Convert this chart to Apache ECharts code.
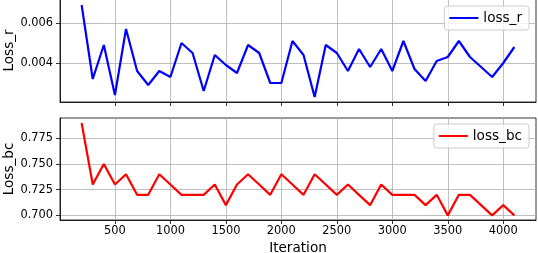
<!DOCTYPE html>
<html>
<head>
<meta charset="utf-8">
<script src="https://cdn.jsdelivr.net/npm/echarts@6/dist/echarts.min.js"></script>
<style>
html,body{margin:0;padding:0;background:#fff;}
#c{width:538px;height:253px;}
</style>
</head>
<body>
<div id="c"></div>
<script>
const iterations = [200,300,400,500,600,700,800,900,1000,1100,1200,1300,1400,1500,1600,1700,1800,1900,2000,2100,2200,2300,2400,2500,2600,2700,2800,2900,3000,3100,3200,3300,3400,3500,3600,3700,3800,3900,4000,4100];
const lossR = [0.0069,0.0032,0.0049,0.0024,0.0057,0.0036,0.0029,0.0036,0.0033,0.0050,0.0045,0.0026,0.0044,0.0039,0.0035,0.0049,0.0045,0.0030,0.0030,0.0051,0.0044,0.0023,0.0049,0.0045,0.0036,0.0047,0.0038,0.0047,0.0036,0.0051,0.0037,0.0031,0.0041,0.0043,0.0051,0.0043,0.0038,0.0033,0.0040,0.0048];
const lossBc = [0.79,0.73,0.75,0.73,0.74,0.72,0.72,0.74,0.73,0.72,0.72,0.72,0.73,0.71,0.73,0.74,0.73,0.72,0.74,0.73,0.72,0.74,0.73,0.72,0.73,0.72,0.71,0.73,0.72,0.72,0.72,0.71,0.72,0.70,0.72,0.72,0.71,0.70,0.71,0.70];
const xTicks = [500,1000,1500,2000,2500,3000,3500,4000];
const rTicks = [0.004,0.006];
const bcTicks = [0.700,0.725,0.750,0.775];

const FONT = 'DejaVu Sans';
const TICK_FS = 11.4, NAME_FS = 13.6;
const chart = echarts.init(document.getElementById('c'), null, {renderer:'canvas'});

function xAxisCfg(gridIndex, showLabels){
  return {
    type:'value', gridIndex, min:5, max:4295,
    axisLine:{show:true, onZero:false, lineStyle:{color:'#000', width:0.8}},
    axisTick:{show:true, inside:false, length:4, customValues:xTicks, lineStyle:{color:'#000', width:0.8}},
    axisLabel:{show:showLabels, customValues:xTicks, margin:6, color:'#000', fontSize:TICK_FS, fontFamily:FONT,
      formatter:(v)=>String(v)},
    splitLine:{show:true, lineStyle:{color:'#b0b0b0', width:0.8}},
    name: showLabels ? 'Iteration' : '',
    nameLocation:'middle', nameGap:21.5, nameMoveOverlap:false,
    nameTextStyle:{color:'#000', fontSize:NAME_FS, fontFamily:FONT}
  };
}
function yAxisCfg(gridIndex, min, max, ticks, name, digits){
  return {
    type:'value', gridIndex, min, max,
    axisLine:{show:true, lineStyle:{color:'#000', width:0.8}},
    axisTick:{show:true, inside:false, length:4, customValues:ticks, lineStyle:{color:'#000', width:0.8}},
    axisLabel:{customValues:ticks, margin:7, color:'#000', fontSize:TICK_FS, fontFamily:FONT,
      formatter:(v)=>v.toFixed(digits)},
    splitLine:{show:true, lineStyle:{color:'#b0b0b0', width:0.8}},
    name, nameLocation:'middle', nameGap:44, nameMoveOverlap:false,
    nameTextStyle:{color:'#000', fontSize:NAME_FS, fontFamily:FONT}
  };
}

chart.setOption({
  animation:false,
  backgroundColor:'#fff',
  grid:[
    {left:60, right:2, top:-1, height:103, show:true, borderColor:'#000', borderWidth:0.8, containLabel:false, outerBoundsMode:'none'},
    {left:60, right:2, top:118, height:102, show:true, borderColor:'#000', borderWidth:0.8, containLabel:false, outerBoundsMode:'none'}
  ],
  xAxis:[xAxisCfg(0,false), xAxisCfg(1,true)],
  yAxis:[
    yAxisCfg(0, 0.00205, 0.0072, rTicks, 'Loss_r', 3),
    yAxisCfg(1, 0.6955, 0.7948, bcTicks, 'Loss_bc', 3)
  ],
  legend:[
    {data:[{name:'loss_r', icon:'rect'}], right:9, top:6, itemWidth:29, itemHeight:2, itemGap:10,
     backgroundColor:'rgba(255,255,255,0.8)', borderColor:'#cccccc', borderWidth:1, borderRadius:3,
     padding:[5,7,5,5], textStyle:{color:'#000', fontSize:NAME_FS, fontFamily:FONT}},
    {data:[{name:'loss_bc', icon:'rect'}], right:9, top:124, itemWidth:29, itemHeight:2, itemGap:10,
     backgroundColor:'rgba(255,255,255,0.8)', borderColor:'#cccccc', borderWidth:1, borderRadius:3,
     padding:[5,7,5,5], textStyle:{color:'#000', fontSize:NAME_FS, fontFamily:FONT}}
  ],
  series:[
    {name:'loss_r', type:'line', xAxisIndex:0, yAxisIndex:0, showSymbol:false, symbol:'none',
     color:'#0000ff', lineStyle:{color:'#0000ff', width:2.2},
     data: iterations.map((x,i)=>[x, lossR[i]])},
    {name:'loss_bc', type:'line', xAxisIndex:1, yAxisIndex:1, showSymbol:false, symbol:'none',
     color:'#ff0000', lineStyle:{color:'#ff0000', width:2.2},
     data: iterations.map((x,i)=>[x, lossBc[i]])}
  ]
});
</script>
</body>
</html>
